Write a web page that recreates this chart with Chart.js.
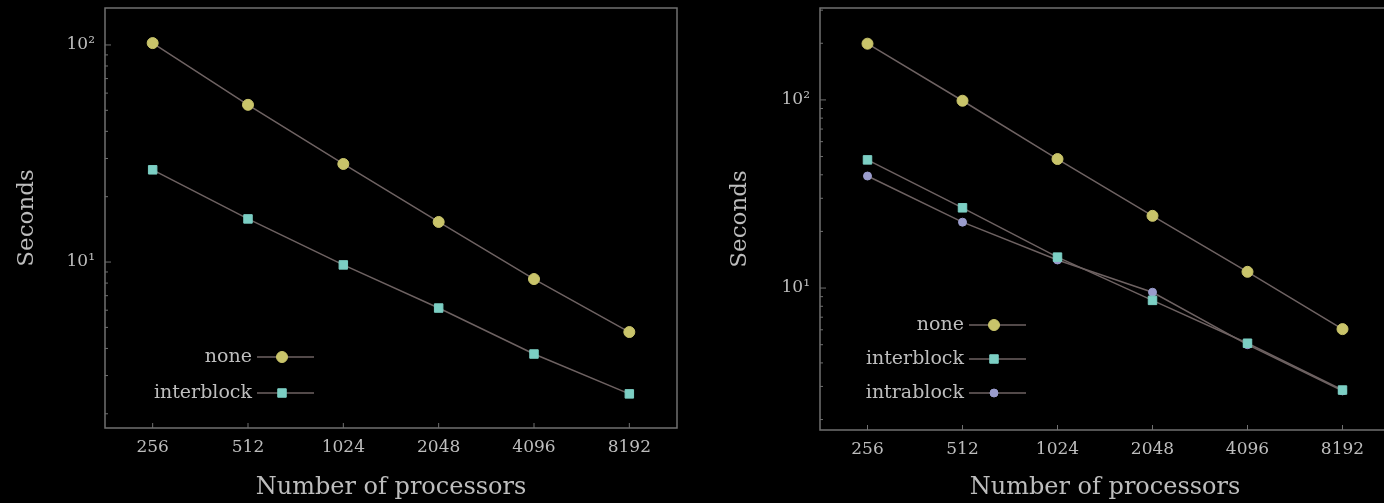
<!DOCTYPE html>
<html>
<head>
<meta charset="utf-8">
<script src="https://cdn.jsdelivr.net/npm/chart.js@4.4.1/dist/chart.umd.min.js"></script>
<style>
    html, body { margin: 0; padding: 0; background: #000; overflow: hidden; }
    #wrap { position: relative; width: 1384px; height: 503px; overflow: hidden; }
    .panel { position: absolute; top: 0; height: 503px; }
    #leftPanel { left: 0; width: 690px; }
    #rightPanel { left: 700px; width: 700px; }
</style>
</head>
<body>
<div id="wrap">
    <div class="panel" id="leftPanel"><canvas id="leftChart"></canvas></div>
    <div class="panel" id="rightPanel"><canvas id="rightChart"></canvas></div>
</div>
<script>
// Data
const processors = ['256', '512', '1024', '2048', '4096', '8192'];

const leftNone = [102, 53, 28.3, 15.3, 8.35, 4.76];
const leftInterblock = [26.6, 15.8, 9.7, 6.14, 3.77, 2.47];

const rightNone = [199, 99, 48.5, 24.2, 12.2, 6.05];
const rightInterblock = [48, 26.7, 14.6, 8.6, 5.09, 2.87];
const rightIntrablock = [39.4, 22.4, 14.1, 9.5, 5.0, 2.84];

const yTickValues = [10, 100];
const yTickLabels = ['10¹', '10²'];

const serif = '"DejaVu Serif", "Liberation Serif", serif';
const textColor = '#bdbdbd';
const frameColor = '#707070';
const lineColor = '#6e6262';

const styles = {
    none: { color: '#c9c46a', pointStyle: 'circle', radius: 5.5 },
    interblock: { color: '#7ccfc4', pointStyle: 'rect', radius: 6 },
    intrablock: { color: '#9a9ccc', pointStyle: 'circle', radius: 4 }
};

const makeDataset = (label, data) => ({
    label: label,
    data: data,
    borderColor: lineColor,
    borderWidth: 1.5,
    pointStyle: styles[label].pointStyle,
    pointRadius: styles[label].radius,
    pointBackgroundColor: styles[label].color,
    pointBorderColor: styles[label].color,
    pointBorderWidth: 1,
    tension: 0
});

// frame, inward ticks and legend
const framePlugin = {
    id: 'frame',
    afterDatasetsDraw: (chart, args, opts) => {
        const ctx = chart.ctx;
        const a = chart.chartArea;
        const y = chart.scales.y;
        const x = chart.scales.x;
        ctx.save();
        ctx.strokeStyle = frameColor;
        ctx.lineWidth = 1.5;
        ctx.strokeRect(a.left, a.top, a.right - a.left, a.bottom - a.top);

        // minor + major ticks on the y axis
        ctx.lineWidth = 1;
        for (let e = 0; e <= 3; e++) {
            for (let m = 1; m <= 9; m++) {
                const v = m * Math.pow(10, e);
                if (v < y.min || v > y.max) continue;
                const py = y.getPixelForValue(v);
                const len = m === 1 ? 6 : 3;
                ctx.beginPath();
                ctx.moveTo(a.left, py);
                ctx.lineTo(a.left + len, py);
                ctx.stroke();
            }
        }
        // ticks on the x axis
        processors.forEach((p, i) => {
            const px = x.getPixelForValue(i);
            ctx.beginPath();
            ctx.moveTo(px, a.bottom);
            ctx.lineTo(px, a.bottom - 5);
            ctx.stroke();
        });

        // legend
        ctx.font = '19px ' + serif;
        ctx.textAlign = 'right';
        ctx.textBaseline = 'middle';
        chart.data.datasets.forEach((ds, i) => {
            const tx = a.left + opts.textRight;
            const ty = opts.top + i * opts.step;
            ctx.fillStyle = textColor;
            ctx.fillText(ds.label, tx, ty);
            ctx.strokeStyle = lineColor;
            ctx.lineWidth = 1.5;
            ctx.beginPath();
            ctx.moveTo(tx + 5, ty);
            ctx.lineTo(tx + 62, ty);
            ctx.stroke();
            const st = styles[ds.label];
            ctx.fillStyle = st.color;
            ctx.strokeStyle = st.color;
            ctx.lineWidth = 1;
            Chart.helpers.drawPoint(ctx, { pointStyle: st.pointStyle, radius: st.radius, rotation: 0, borderWidth: 1 }, tx + 30, ty);
        });
        ctx.restore();
    }
};

const makeOptions = (cfg) => ({
    responsive: true,
    maintainAspectRatio: false,
    animation: false,
    layout: { padding: { left: 0, right: cfg.padRight, top: 8, bottom: 0 } },
    scales: {
        x: {
            type: 'category',
            offset: true,
            grid: { display: false, drawTicks: false },
            border: { display: false },
            ticks: { color: textColor, font: { family: serif, size: 17 }, padding: 9, maxRotation: 0 },
            title: { display: true, text: 'Number of processors', color: textColor,
                     font: { family: serif, size: 24 }, padding: { top: 0, bottom: 1 } },
            afterFit: (s) => { s.height = cfg.xHeight; }
        },
        y: {
            type: 'logarithmic',
            min: cfg.yMin,
            max: cfg.yMax,
            grid: { display: false, drawTicks: false },
            border: { display: false },
            afterBuildTicks: (s) => { s.ticks = yTickValues.map(v => ({ value: v })); },
            ticks: {
                color: textColor,
                font: { family: serif, size: 17 },
                padding: 10,
                callback: (v) => yTickLabels[yTickValues.indexOf(v)] || ''
            },
            title: { display: true, text: 'Seconds', color: textColor,
                     font: { family: serif, size: 23 }, padding: { top: cfg.titlePad, bottom: 0 } },
            afterFit: (s) => { s.width = cfg.yWidth; s.paddingTop = 0; s.paddingBottom = 0; }
        }
    },
    plugins: {
        legend: { display: false },
        tooltip: { enabled: false },
        frame: cfg.legend
    }
});

new Chart(document.getElementById('leftChart'), {
    type: 'line',
    data: {
        labels: processors,
        datasets: [makeDataset('none', leftNone), makeDataset('interblock', leftInterblock)]
    },
    options: makeOptions({
        padRight: 13, xHeight: 75, yWidth: 105, yMin: 1.72, yMax: 148, titlePad: 13,
        legend: { textRight: 147, top: 357, step: 36 }
    }),
    plugins: [framePlugin]
});

new Chart(document.getElementById('rightChart'), {
    type: 'line',
    data: {
        labels: processors,
        datasets: [makeDataset('none', rightNone), makeDataset('interblock', rightInterblock),
                   makeDataset('intrablock', rightIntrablock)]
    },
    options: makeOptions({
        padRight: 10, xHeight: 73, yWidth: 120, yMin: 1.76, yMax: 308, titlePad: 26,
        legend: { textRight: 144, top: 325, step: 34 }
    }),
    plugins: [framePlugin]
});
</script>
</body>
</html>
